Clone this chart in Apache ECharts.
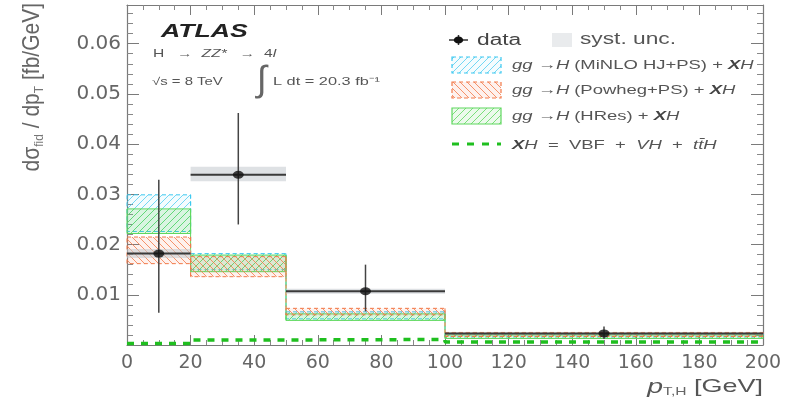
<!DOCTYPE html>
<html>
<head>
<meta charset="utf-8">
<script src="https://cdn.jsdelivr.net/npm/echarts@6/dist/echarts.min.js"></script>
<style>
  html, body { margin: 0; padding: 0; background: #fff; }
  #chart { width: 793px; height: 409px; }
</style>
</head>
<body>
<div id="chart"></div>
<script>
// pT,H bin edges [GeV] and measured fiducial cross sections [fb/GeV]
const binEdges  = [0, 20, 50, 100, 200];
const dataVals  = [0.0182, 0.0339, 0.0107, 0.0023];
const dataErrLo = [0.0064, 0.0240, 0.0067, 0.0012];
const dataErrHi = [0.0329, 0.0462, 0.0160, 0.0037];
const systLo    = [0.0173, 0.0326, 0.0102, 0.0021];
const systHi    = [0.0191, 0.0355, 0.0112, 0.0025];

// theory bands (lower / upper edge per bin)
const minloLo  = [0.0226, 0.0150, 0.0052, 0.0016];
const minloHi  = [0.0299, 0.0182, 0.0066, 0.0022];
const powhegLo = [0.0162, 0.0136, 0.0060, 0.0017];
const powhegHi = [0.0215, 0.0176, 0.0073, 0.0025];
const hresLo   = [0.0222, 0.0146, 0.0049, 0.0013];
const hresHi   = [0.0271, 0.0179, 0.0062, 0.0020];

// XH = VBF + VH + ttH contribution
const xhVals = [0.0003, 0.0010, 0.0011, 0.0006];

const xMax = 200, xStep = 20;
const yMax = 0.0677, yStep = 0.01;

const SANS = '"Liberation Sans", Arial, sans-serif';
const STRETCH = 1.42;

function hatch(color, dir) {
  const s = 7;
  const c = document.createElement('canvas');
  c.width = s; c.height = s;
  const g = c.getContext('2d');
  g.strokeStyle = color;
  g.lineWidth = 1;
  g.beginPath();
  if (dir > 0) {
    g.moveTo(0, s); g.lineTo(s, 0);
    g.moveTo(-1, 1); g.lineTo(1, -1);
    g.moveTo(s - 1, s + 1); g.lineTo(s + 1, s - 1);
  } else {
    g.moveTo(0, 0); g.lineTo(s, s);
    g.moveTo(-1, s - 1); g.lineTo(1, s + 1);
    g.moveTo(s - 1, -1); g.lineTo(s + 1, 1);
  }
  g.stroke();
  return c;
}

const cyan = '#3cc8f0', orange = '#f27a4a', green = '#5fd85f';
const cyanPat = hatch('rgba(60,200,240,0.7)', 1);
const orangePat = hatch('rgba(242,122,74,0.8)', -1);
const greenPat = hatch('rgba(95,216,95,0.8)', 1);

function bandSeries(name, lo, hi, color, fillColor, pattern, solidEdge) {
  const items = lo.map((v, i) => [binEdges[i], binEdges[i + 1], v, hi[i]]);
  const dash = solidEdge ? null : [4, 3];
  return {
    type: 'custom', name, data: items, z: 2,
    encode: { x: [0, 1], y: [2, 3] },
    renderItem(params, api) {
      const i = params.dataIndex;
      const a = api.coord([api.value(0), api.value(3)]);
      const b = api.coord([api.value(1), api.value(2)]);
      const shape = { x: a[0], y: a[1], width: b[0] - a[0], height: b[1] - a[1] };
      const children = [
        { type: 'rect', shape, style: { fill: fillColor } },
        { type: 'rect', shape, style: { fill: { image: pattern, repeat: 'repeat' } } },
        { type: 'rect', shape, style: { fill: 'none', stroke: color, lineWidth: 1, lineDash: dash } }
      ];
      if (i < lo.length - 1) {
        const top = api.coord([binEdges[i + 1], Math.max(hi[i], hi[i + 1])]);
        const bot = api.coord([binEdges[i + 1], Math.min(lo[i], lo[i + 1])]);
        children.push({ type: 'line', shape: { x1: top[0], y1: top[1], x2: bot[0], y2: bot[1] },
          style: { stroke: color, lineWidth: 1, lineDash: dash } });
      }
      return { type: 'group', children };
    }
  };
}

const centers = binEdges.slice(0, -1).map((e, i) => (e + binEdges[i + 1]) / 2);

const series = [
  bandSeries('MiNLO', minloLo, minloHi, cyan, 'rgba(60,200,240,0.06)', cyanPat, false),
  bandSeries('HRes', hresLo, hresHi, green, 'rgba(95,216,95,0.18)', greenPat, true),
  bandSeries('Powheg', powhegLo, powhegHi, orange, 'rgba(242,122,74,0.10)', orangePat, false),
  {
    type: 'line', name: 'XH', step: 'end', symbol: 'none', z: 4,
    data: binEdges.map((x, i) => [x, xhVals[Math.min(i, xhVals.length - 1)]]),
    lineStyle: { color: '#1fbf1f', width: 3.5, type: [7, 7] }
  },
  {
    type: 'custom', name: 'syst', z: 5,
    data: systLo.map((v, i) => [binEdges[i], binEdges[i + 1], v, systHi[i]]),
    encode: { x: [0, 1], y: [2, 3] },
    renderItem(params, api) {
      const a = api.coord([api.value(0), api.value(3)]);
      const b = api.coord([api.value(1), api.value(2)]);
      return { type: 'rect', shape: { x: a[0], y: a[1], width: b[0] - a[0], height: b[1] - a[1] },
        style: { fill: 'rgba(195,200,205,0.55)' } };
    }
  },
  {
    type: 'custom', name: 'errors', z: 6,
    data: dataVals.map((v, i) => [centers[i], v, dataErrLo[i], dataErrHi[i], binEdges[i], binEdges[i + 1]]),
    encode: { x: 0, y: [1, 2, 3] },
    renderItem(params, api) {
      const top = api.coord([api.value(0), api.value(3)]);
      const bot = api.coord([api.value(0), api.value(2)]);
      const l = api.coord([api.value(4), api.value(1)]);
      const r = api.coord([api.value(5), api.value(1)]);
      return { type: 'group', children: [
        { type: 'line', shape: { x1: top[0], y1: top[1], x2: bot[0], y2: bot[1] }, style: { stroke: '#444', lineWidth: 1.5 } },
        { type: 'line', shape: { x1: l[0], y1: l[1], x2: r[0], y2: r[1] }, style: { stroke: '#3a3a3a', lineWidth: 2 } }
      ] };
    }
  },
  {
    type: 'scatter', name: 'data', z: 7,
    data: dataVals.map((v, i) => [centers[i], v]),
    symbol: 'circle', symbolSize: [11, 8],
    itemStyle: { color: '#111' }
  }
];

function txt(x, y, text, o) {
  o = o || {};
  return {
    type: 'text', x, y, scaleX: o.scaleX || STRETCH, scaleY: o.scaleY || 1, rotation: o.rotation || 0, silent: true, z: 20,
    style: Object.assign({
      text, fill: o.fill || '#555',
      fontSize: o.fontSize || 12, fontFamily: SANS,
      fontStyle: o.fontStyle || 'normal', fontWeight: o.fontWeight || 'normal',
      align: o.align || 'left', verticalAlign: 'middle',
      textAlign: o.align || 'left', textVerticalAlign: 'middle'
    }, o.rich ? { rich: o.rich } : {})
  };
}

const legRich = (fs) => ({
  i: { fontSize: fs, fontFamily: SANS, fontStyle: 'italic', fill: '#555' },
  n: { fontSize: fs, fontFamily: SANS, fill: '#555' },
  b: { fontSize: fs, fontFamily: SANS, fontStyle: 'italic', fontWeight: 'bold', fill: '#444' }
});

const graphic = [
  // experiment label and run conditions
  txt(161, 32, 'ATLAS', { fontSize: 19, fontWeight: 'bold', fontStyle: 'italic', fill: '#222', scaleX: 1.4 }),
  txt(153, 54, '{n|H   →  }{i|ZZ*}{n|   →  4}{i|l}', { rich: legRich(11) }),
  txt(152, 82, '√s = 8 TeV', { fontSize: 10.5 }),
  txt(257, 81, '∫', { fontSize: 36, fill: '#666', scaleX: 1.0 }),
  txt(273, 82, 'L dt = 20.3 fb⁻¹', { fontSize: 11.5 }),

  // legend
  { type: 'line', shape: { x1: 449, y1: 40, x2: 468, y2: 40 }, style: { stroke: '#333', lineWidth: 1.5 }, z: 20 },
  { type: 'line', shape: { x1: 458.5, y1: 35, x2: 458.5, y2: 45 }, style: { stroke: '#333', lineWidth: 1.5 }, z: 20 },
  { type: 'circle', shape: { cx: 0, cy: 0, r: 3.6 }, x: 458.5, y: 40, scaleX: 1.3, style: { fill: '#111' }, z: 21 },
  txt(477, 41, 'data', { fontSize: 16, fill: '#444' }),
  { type: 'rect', shape: { x: 552, y: 33, width: 20, height: 14 }, style: { fill: '#e9ebed' }, z: 20 },
  txt(580, 40, 'syst. unc.', { fontSize: 16, fill: '#555' }),

  { type: 'rect', shape: { x: 452, y: 57, width: 49, height: 16 }, style: { fill: 'rgba(60,200,240,0.06)' }, z: 20 },
  { type: 'rect', shape: { x: 452, y: 57, width: 49, height: 16 }, style: { fill: { image: cyanPat, repeat: 'repeat' }, stroke: cyan, lineWidth: 1.2, lineDash: [4, 3] }, z: 20 },
  txt(512, 65, '{i|gg →H} {n|(MiNLO HJ+PS) + }{b|X}{i|H}', { rich: legRich(13) }),

  { type: 'rect', shape: { x: 452, y: 82, width: 49, height: 16 }, style: { fill: 'rgba(242,122,74,0.10)' }, z: 20 },
  { type: 'rect', shape: { x: 452, y: 82, width: 49, height: 16 }, style: { fill: { image: orangePat, repeat: 'repeat' }, stroke: orange, lineWidth: 1.2, lineDash: [4, 3] }, z: 20 },
  txt(512, 90, '{i|gg →H} {n|(Powheg+PS) + }{b|X}{i|H}', { rich: legRich(13) }),

  { type: 'rect', shape: { x: 452, y: 108, width: 49, height: 16 }, style: { fill: 'rgba(95,216,95,0.12)' }, z: 20 },
  { type: 'rect', shape: { x: 452, y: 108, width: 49, height: 16 }, style: { fill: { image: greenPat, repeat: 'repeat' }, stroke: green, lineWidth: 1.2 }, z: 20 },
  txt(512, 116, '{i|gg →H} {n|(HRes) + }{b|X}{i|H}', { rich: legRich(13) }),

  { type: 'line', shape: { x1: 452, y1: 144, x2: 501, y2: 144 }, style: { stroke: '#1fbf1f', lineWidth: 3, lineDash: [7, 8] }, z: 20 },
  txt(512, 145, '{b|X}{i|H}{n|  =  VBF  +  }{i|VH}{n|  +  }{i|tt̄H}', { rich: legRich(13) }),

  // axis titles
  txt(763, 387, '{p|p}{s|T,H}{n| [GeV]}', { align: 'right', scaleX: 1.42, rich: {
    p: { fontSize: 20, fontFamily: SANS, fontStyle: 'italic', fill: '#555' },
    s: { fontSize: 11, fontFamily: SANS, fill: '#666', verticalAlign: 'bottom', lineHeight: 12 },
    n: { fontSize: 19, fontFamily: SANS, fill: '#555' }
  } }),
  txt(33, 3, '{m|dσ}{s|fid}{m| / dp}{s|T}{m| [fb/GeV]}', { align: 'right', rotation: Math.PI / 2, scaleX: 1, scaleY: 1.1, rich: {
    m: { fontSize: 21, fontFamily: SANS, fill: '#666', lineHeight: 24 },
    s: { fontSize: 12, fontFamily: SANS, fill: '#777', verticalAlign: 'bottom', lineHeight: 13 }
  } })
];

const frame = { show: true, onZero: false, lineStyle: { color: '#7a7a7a', width: 1.2 } };

const option = {
  animation: false,
  backgroundColor: '#fff',
  grid: { left: 127, right: 30, top: 5, bottom: 64 },
  xAxis: [
    {
      type: 'value', min: 0, max: xMax, interval: xStep, position: 'bottom',
      axisLine: frame,
      axisTick: { show: true, inside: true, length: 10, lineStyle: { color: '#7a7a7a' } },
      minorTick: { show: true, splitNumber: 4, length: 5, lineStyle: { color: '#888' } },
      axisLabel: { color: '#666', fontSize: 19, fontFamily: '"DejaVu Sans", sans-serif', margin: 9 },
      splitLine: { show: false }
    },
    {
      type: 'value', min: 0, max: xMax, interval: xStep, position: 'top',
      axisLine: frame,
      axisTick: { show: true, inside: true, length: 10, lineStyle: { color: '#7a7a7a' } },
      minorTick: { show: true, splitNumber: 4, length: 5, lineStyle: { color: '#888' } },
      axisLabel: { show: false }, splitLine: { show: false }
    }
  ],
  yAxis: [
    {
      type: 'value', min: 0, max: yMax, interval: yStep, position: 'left',
      axisLine: frame,
      axisTick: { show: true, inside: true, length: 12, lineStyle: { color: '#7a7a7a' } },
      minorTick: { show: true, splitNumber: 5, length: 6, lineStyle: { color: '#888' } },
      axisLabel: { color: '#666', fontSize: 20, fontFamily: '"DejaVu Sans", sans-serif', margin: 6,
        showMinLabel: false, showMaxLabel: false, formatter: v => v.toFixed(2) },
      splitLine: { show: false }
    },
    {
      type: 'value', min: 0, max: yMax, interval: yStep, position: 'right',
      axisLine: frame,
      axisTick: { show: true, inside: true, length: 12, lineStyle: { color: '#7a7a7a' } },
      minorTick: { show: true, splitNumber: 5, length: 6, lineStyle: { color: '#888' } },
      axisLabel: { show: false }, splitLine: { show: false }
    }
  ],
  series,
  graphic
};

const chart = echarts.init(document.getElementById('chart'), null, { renderer: 'canvas' });
chart.setOption(option);
</script>
</body>
</html>
